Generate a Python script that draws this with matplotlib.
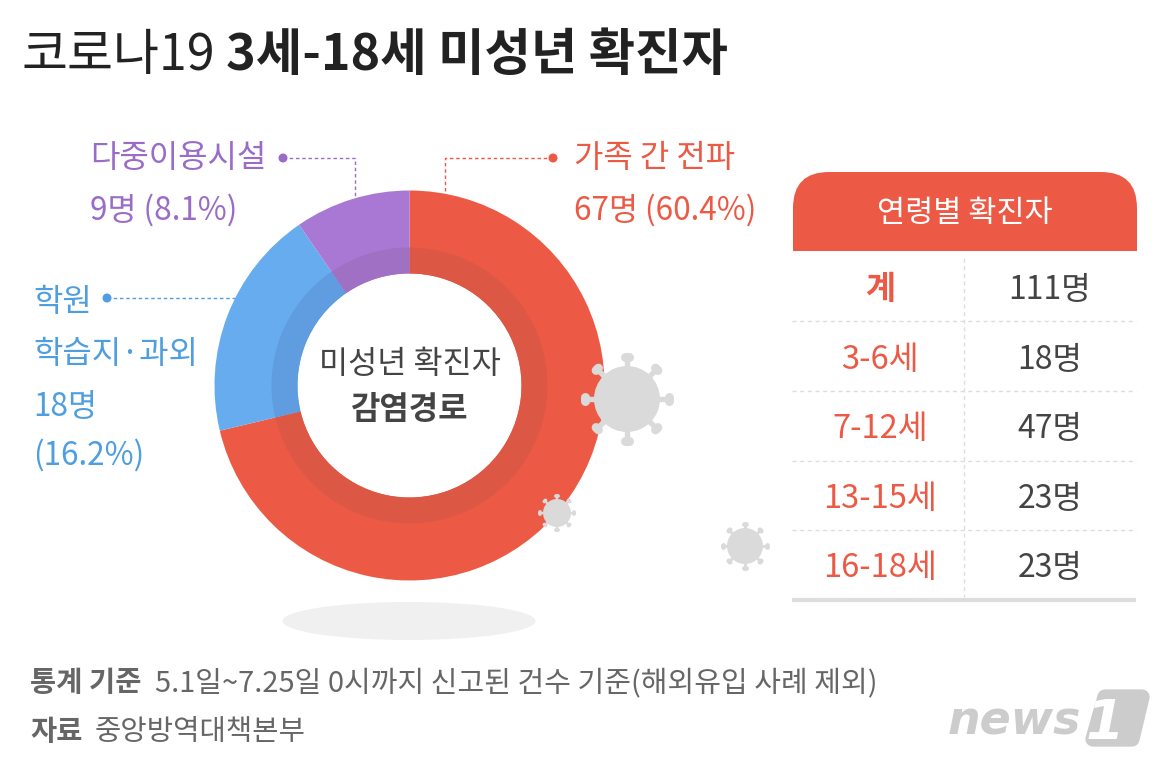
import math
import matplotlib
matplotlib.use("Agg")
import matplotlib.pyplot as plt
from matplotlib.patches import Circle, Ellipse, FancyBboxPatch, Polygon, Rectangle

plt.rcParams['font.family'] = ['Noto Sans CJK KR', 'DejaVu Sans']

route_counts = [67, 18, 9]
route_pcts = [60.4, 16.2, 8.1]
route_colors = ['#EC5A46', '#66ACEE', '#A978D4']
route_inner_colors = ['#DD5844', '#5F9DE0', '#9F70C4']
age_groups = ['계', '3-6세', '7-12세', '13-15세', '16-18세']
age_counts = [111, 18, 47, 23, 23]

RED = route_colors[0]
BLUE = '#4F9EE0'
PURPLE = '#9A6CC8'
DARK = '#444444'
W, H = 1166, 765


def py(y):
    # the layout was measured from the top of the picture
    return H - y


def label(x, y, s, size, color=DARK, weight='normal', ha='left'):
    ax.text(x, py(y), s, fontsize=size, color=color, fontweight=weight, ha=ha, va='center_baseline')


def leader(xs, ys, color):
    ax.plot(xs, [py(y) for y in ys], color=color, lw=1, dashes=(2.5, 2), zorder=1)
    ax.add_patch(Circle((xs[0], py(ys[0])), 4.5, color=color, ec='none', zorder=3))


def virus(cx, cy, body, reach, lw):
    color = '#DADADA'
    ax.add_patch(Circle((cx, py(cy)), body, color=color, ec='none', zorder=5))
    for i in range(8):
        a = math.radians(45 * i)
        ax.plot([cx + body * math.cos(a), cx + reach * math.cos(a)],
                [py(cy) + body * math.sin(a), py(cy) + reach * math.sin(a)],
                color=color, lw=lw * 0.6, zorder=5, solid_capstyle='round')
        tx, ty = -math.sin(a), math.cos(a)
        ex, ey = cx + reach * math.cos(a), py(cy) + reach * math.sin(a)
        ax.plot([ex - tx * lw * 0.25, ex + tx * lw * 0.25], [ey - ty * lw * 0.25, ey + ty * lw * 0.25],
                color=color, lw=lw, zorder=5, solid_capstyle='round')


fig = plt.figure(figsize=(W / 100, H / 100), dpi=100, facecolor='white')
ax = fig.add_axes([0, 0, 1, 1])

# donut: outer band and the darker inner band
center = (409.5, py(385.5))
ax.pie(route_counts, colors=route_colors, startangle=90, counterclock=False, radius=195,
       center=center, wedgeprops=dict(width=83, linewidth=0))
ax.pie(route_counts, colors=route_inner_colors, startangle=90, counterclock=False, radius=138,
       center=center, wedgeprops=dict(width=26, linewidth=0))
ax.set_xlim(0, W)
ax.set_ylim(0, H)
ax.set_aspect('auto')
ax.axis('off')

ax.add_patch(Ellipse((409, py(621)), 253, 38, color='#F0F0F0', ec='none'))

# title
label(22, 50, '코로나19', 36, color='#222222')
label(226, 50, '3세-18세 미성년 확진자', 36.3, color='#222222', weight='bold')

# centre text
label(410, 360, '미성년 확진자', 22.8, ha='center')
label(410, 406, '감염경로', 23, weight='bold', ha='center')

# callouts
leader([553, 445, 445], [158, 158, 193], RED)
leader([283, 355, 355], [158, 158, 198], PURPLE)
leader([107, 235], [298, 298], BLUE)
label(574, 154, '가족 간 전파', 23, color=RED)
label(574, 207, f'{route_counts[0]}명 ({route_pcts[0]}%)', 22.7, color=RED, weight='medium')
label(90, 154, '다중이용시설', 23, color=PURPLE)
label(90, 207, f'{route_counts[2]}명 ({route_pcts[2]}%)', 22.7, color=PURPLE, weight='medium')
label(33, 298, '학원', 23, color=BLUE)
label(33, 350, '학습지·과외', 23, color=BLUE)
label(33, 403, f'{route_counts[1]}명', 22.7, color=BLUE, weight='medium')
label(33, 452, f'({route_pcts[1]}%)', 22.7, color=BLUE, weight='medium')

virus(627, 399, 33, 42, 6.5)
virus(557, 513, 14, 17, 2.8)
virus(745, 546, 18, 22, 3.5)

# table header, only the top corners are round
ax.add_patch(FancyBboxPatch((793 + 36, py(251) + 36), 344 - 72, 79 - 72, boxstyle='round,pad=36',
                            fc=RED, ec='none'))
ax.add_patch(Rectangle((793, py(251)), 344, 36, fc=RED, ec='none'))
label(965, 210, '연령별 확진자', 22, color='white', ha='center')

# table rows
row_ys = [286, 356, 425, 495, 565]
for i, (group, count) in enumerate(zip(age_groups, age_counts)):
    bold = i == 0
    label(880, row_ys[i], group, 23.5, color=RED, weight='bold' if bold else 'normal', ha='center')
    label(1050, row_ys[i], f'{count}명', 23, color=DARK, weight='medium' if bold else 'normal', ha='center')
for y in [321, 391, 460.5, 530]:
    ax.plot([792, 1136], [py(y), py(y)], color='#DDDDDD', lw=1, dashes=(3, 2.5))
ax.plot([964, 964], [py(258), py(597)], color='#DDDDDD', lw=1, dashes=(3, 2.5))
ax.plot([792, 1136], [py(600), py(600)], color='#DDDDDD', lw=3, solid_capstyle='butt')

# footer
label(30, 680, '통계 기준', 20.5, color='#666666', weight='bold')
label(155, 680, '5.1일~7.25일 0시까지 신고된 건수 기준(해외유입 사례 제외)', 20.9, color='#666666')
label(30, 729, '자료', 20.5, color='#666666', weight='bold')
label(95, 729, '중앙방역대책본부', 20.6, color='#666666')

# news1 logo
ax.text(948, py(717), 'news', fontsize=33, color='#CCCCCC', fontweight='bold', style='italic',
        family='DejaVu Sans', ha='left', va='center_baseline')
ax.add_patch(Polygon([(1105, py(697)), (1142, py(697)), (1132, py(739)), (1093, py(739))],
                     closed=True, fc='#CCCCCC', ec='#CCCCCC', lw=11, joinstyle='round'))
ax.text(1105, py(718), '1', fontsize=40, color='white', fontweight='bold', style='italic',
        family='DejaVu Sans', ha='center', va='center_baseline')

fig.savefig('out.png', dpi=100, facecolor='white')
